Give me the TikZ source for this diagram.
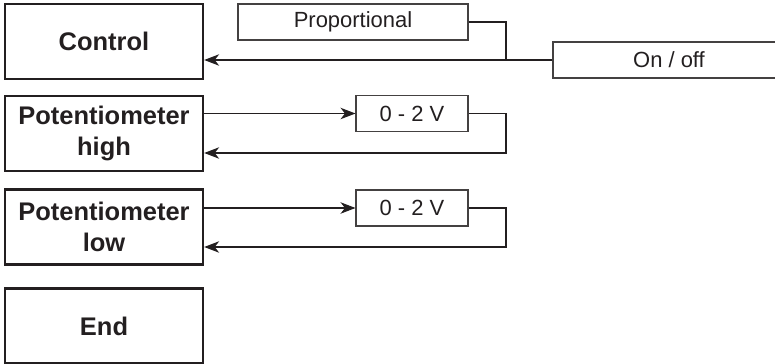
\documentclass[tikz,border=0pt]{standalone}
\usepackage{fontspec}
\setmainfont{Liberation Sans}
\usepackage{tikz}
\usetikzlibrary{arrows.meta}
\usepackage{xcolor}
\definecolor{inkgray}{RGB}{35,31,32}

\tikzset{
    menubox/.style={draw=inkgray, line width=1.4pt, minimum width=3.96cm, minimum height=1.5cm,
        align=center, inner sep=0pt, font=\fontsize{14.5}{18}\selectfont\bfseries, text=inkgray},
    optbox/.style={draw=inkgray!85, line width=0.6pt, minimum height=0.72cm, inner sep=0pt,
        font=\fontsize{12.5}{13}\selectfont, text=inkgray},
    wire/.style={draw=inkgray, line width=0.6pt},
    arr/.style={wire, -{Stealth[length=8.5pt, width=6.5pt, inset=2.5pt]}}
}

\begin{document}
\begin{tikzpicture}[x=0.02cm, y=-0.02cm]
        \useasboundingbox (0,0) rectangle (775,364);

        % Menu boxes
        \node[menubox] (control) at (104,41.5) {Control};
        \node[menubox] (pothigh) at (104,133.5) {Potentiometer\\high};
        \node[menubox] (potlow) at (104,227) {Potentiometer\\low};
        \node[menubox] (endbox) at (104,326) {End};

        % Options (On / off runs past the right edge)
        \node[optbox, minimum width=2.24cm] (volthigh) at (412,113.5) {0 - 2 V};
        \node[optbox, minimum width=2.24cm] (voltlow) at (412,208) {0 - 2 V};
        \node[optbox, minimum width=4.6cm] (prop) at (353,22) {Proportional};
        \node[optbox, minimum width=4.64cm] (onoff) at (669,60) {On / off};

        % Junctions
        \coordinate (join) at (506,60);
        \coordinate (rethigh) at (506,153);
        \coordinate (retlow) at (506,247);

        % Control lines
        \draw[wire] (prop.east) -| (join);
        \draw[arr] (onoff.west) -- (onoff.west -| control.east);

        % Potentiometer high
        \draw[arr] (pothigh.east |- volthigh.west) -- (volthigh.west);
        \draw[arr] (volthigh.east) -| (rethigh) -- (rethigh -| pothigh.east);

        % Potentiometer low
        \draw[arr] (potlow.east |- voltlow.west) -- (voltlow.west);
        \draw[arr] (voltlow.east) -| (retlow) -- (retlow -| potlow.east);
    \end{tikzpicture}
\end{document}
